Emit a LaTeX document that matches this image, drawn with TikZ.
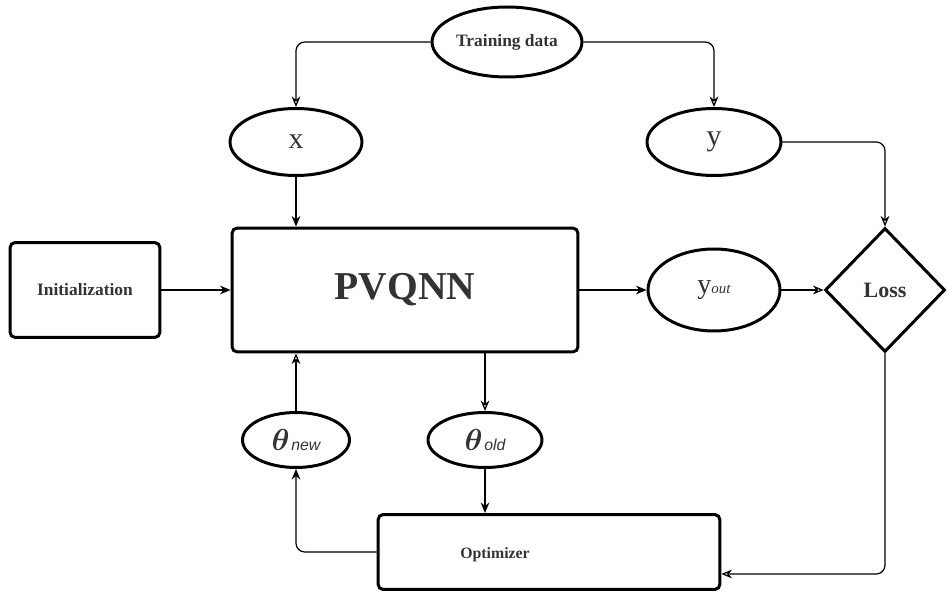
\documentclass[tikz,border=0pt]{standalone}
\usepackage{amsmath}
\usepackage{fontspec}
\setmainfont{Liberation Serif}
\newfontfamily\subsans{Liberation Sans}
\usetikzlibrary{positioning, arrows.meta, shapes.geometric}
\definecolor{txtgray}{HTML}{333333}

\begin{document}
\begin{tikzpicture}[x=0.02cm, y=-0.02cm, >={Stealth[length=6pt, width=5pt]},
    blob/.style={draw, ellipse, line width=1.7pt, inner sep=0pt, text=txtgray},
    box/.style={draw, rectangle, rounded corners=3pt, line width=1.7pt, inner sep=0pt, text=txtgray},
    link/.style={->, line width=0.7pt, rounded corners=5pt},
    openlink/.style={-{Stealth[open, length=6pt, width=5pt]}, line width=0.7pt, rounded corners=5pt}]
  \useasboundingbox (0,0) rectangle (947,594);
  % data and labels
  \node [blob, minimum width=3cm, minimum height=1.4cm] (train) at (507,42) {\bfseries\fontsize{9.9}{12}\selectfont Training data};
  \node [blob, minimum width=2.64cm, minimum height=1.34cm] (x) at (296,142) {\fontsize{17}{20}\selectfont x};
  \node [blob, minimum width=2.68cm, minimum height=1.34cm] (y) at (714,142) {\fontsize{17}{20}\selectfont y};
  % main blocks
  \node [box, minimum width=3cm, minimum height=1.9cm] (init) at (85,290) {\bfseries\fontsize{9.9}{12}\selectfont Initialization};
  \node [box, minimum width=6.92cm, minimum height=2.48cm] (pvqnn) at (405,290) {\bfseries\fontsize{22.5}{26}\selectfont PVQNN};
  \node [blob, minimum width=2.64cm, minimum height=1.64cm] (yout) at (714,290) {\fontsize{16}{19}\selectfont y{\itshape\fontsize{8.5}{10}\selectfont out}};
  \node [draw, diamond, line width=1.7pt, inner sep=0pt, minimum width=2.4cm, minimum height=2.48cm, text=txtgray] (loss) at (885,290) {\bfseries\fontsize{12.5}{15}\selectfont Loss};
  % parameters
  \node [blob, minimum width=2.14cm, minimum height=1.1cm] (thetanew) at (296,440) {\fontsize{16}{19}\selectfont$\boldsymbol{\theta}$\kern1pt{\subsans\itshape\fontsize{9}{11}\selectfont new}};
  \node [blob, minimum width=2.28cm, minimum height=1.1cm] (thetaold) at (485,440) {\fontsize{16}{19}\selectfont$\boldsymbol{\theta}$\kern1pt{\subsans\itshape\fontsize{9}{11}\selectfont old}};
  \node [box, minimum width=6.84cm, minimum height=1.5cm,
         label={[text=txtgray, xshift=-1.08cm, yshift=-0.05cm]center:\bfseries\fontsize{9}{11}\selectfont Optimizer}] (optim) at (549,552) {};
  % connectors
  \draw [openlink] (train.west) -| (x.north);
  \draw [openlink] (train.east) -| (y.north);
  \draw [link] (x.south) -- (x.south |- pvqnn.north);
  \draw [openlink] (y.east) -| (loss.north);
  \draw [link] (init.east) -- (pvqnn.west);
  \draw [link] (pvqnn.east) -- (yout.west);
  \draw [openlink] (yout.east) -- (loss.west);
  \draw [openlink] (loss.south) |- ([yshift=0.34cm]optim.south east);
  \draw [openlink] (thetaold.north |- pvqnn.south) -- (thetaold.north);
  \draw [link] (thetaold.south) -- (thetaold.south |- optim.north);
  \draw [link] (optim.west) -| (thetanew.south);
  \draw [openlink] (thetanew.north) -- (thetanew.north |- pvqnn.south);
\end{tikzpicture}
\end{document}
